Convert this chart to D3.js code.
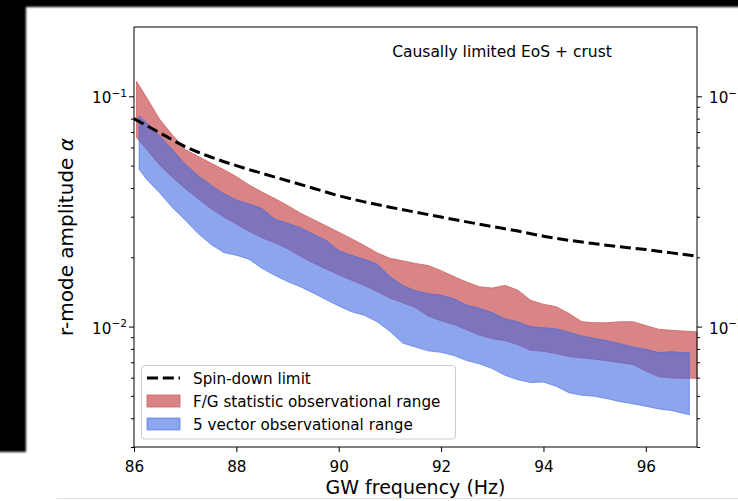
<!DOCTYPE html>
<html>
<head>
<meta charset="utf-8">
<script src="https://cdn.jsdelivr.net/npm/d3@7"></script>
<style>
body { margin: 0; background: #fff; }
svg { display: block; font-family: "DejaVu Sans", sans-serif; }
</style>
</head>
<body>
<div id="content"></div>
<script>
// F/G statistic band
const fgFreq = [86.05, 86.25, 86.5, 86.75, 87, 87.25, 87.5, 87.75, 88, 88.25, 88.5, 88.75, 89, 89.25, 89.5, 89.75,
  90, 90.25, 90.5, 90.75, 91, 91.25, 91.5, 91.75, 92, 92.25, 92.5, 92.75, 93, 93.25, 93.5, 93.75,
  94, 94.25, 94.5, 94.75, 95, 95.25, 95.5, 95.75, 96, 96.25, 96.5, 96.75, 97]
const fgHigh = [0.1162, 0.0985, 0.0796, 0.0680, 0.0588, 0.0549, 0.0513, 0.0481, 0.0448, 0.0412, 0.0384, 0.0360, 0.0336, 0.0311, 0.0292, 0.0274,
  0.0257, 0.0241, 0.0225, 0.0209, 0.0198, 0.0193, 0.0188, 0.0184, 0.0175, 0.0165, 0.0156, 0.0149, 0.0147, 0.0151, 0.0144, 0.0130,
  0.0125, 0.0122, 0.0114, 0.0105, 0.0104, 0.0104, 0.0105, 0.0105, 0.0101, 0.00974, 0.00963, 0.00956, 0.00948]
const fgLow = [0.0661, 0.0587, 0.0503, 0.0445, 0.0398, 0.0359, 0.0326, 0.0300, 0.0279, 0.0259, 0.0243, 0.0231, 0.0218, 0.0202, 0.0189, 0.0178,
  0.0168, 0.0159, 0.0151, 0.0142, 0.0133, 0.0127, 0.0121, 0.0111, 0.0106, 0.0102, 0.00968, 0.00918, 0.00886, 0.00869, 0.00834, 0.00789,
  0.00781, 0.00763, 0.00741, 0.00731, 0.00722, 0.00710, 0.00697, 0.00684, 0.00641, 0.00606, 0.00598, 0.00596, 0.00597]

// 5 vector band
const vecFreq = [86.1, 86.25, 86.5, 86.75, 87, 87.25, 87.5, 87.75, 88, 88.25, 88.5, 88.75, 89, 89.25, 89.5, 89.75,
  90, 90.25, 90.5, 90.75, 91, 91.25, 91.5, 91.75, 92, 92.25, 92.5, 92.75, 93, 93.25, 93.5, 93.75,
  94, 94.25, 94.5, 94.75, 95, 95.25, 95.5, 95.75, 96, 96.25, 96.5, 96.85]
const vecHigh = [0.0821, 0.0767, 0.0675, 0.0587, 0.0508, 0.0453, 0.0412, 0.0378, 0.0355, 0.0341, 0.0326, 0.0293, 0.0281, 0.0269, 0.0252, 0.0237,
  0.0214, 0.0204, 0.0196, 0.0187, 0.0165, 0.0151, 0.0143, 0.0139, 0.0137, 0.0132, 0.0124, 0.0120, 0.0115, 0.0108, 0.0105, 0.0100,
  0.00989, 0.00979, 0.00945, 0.00911, 0.00888, 0.00868, 0.00843, 0.00816, 0.00797, 0.00771, 0.00778, 0.00769]
const vecLow = [0.0482, 0.0435, 0.0381, 0.0329, 0.0290, 0.0254, 0.0228, 0.0210, 0.0204, 0.0196, 0.0179, 0.0167, 0.0157, 0.0149, 0.0140, 0.0131,
  0.0123, 0.0116, 0.0112, 0.0105, 0.00954, 0.00848, 0.00815, 0.00785, 0.00773, 0.00749, 0.00712, 0.00689, 0.00657, 0.00614, 0.00588, 0.00572,
  0.00574, 0.00551, 0.00516, 0.00503, 0.00498, 0.00486, 0.00472, 0.00462, 0.00451, 0.00439, 0.00432, 0.00414]

// spin-down limit
const sdFreq = [86, 86.5, 87, 87.5, 88, 88.5, 89, 89.5, 90, 90.5, 91, 91.5, 92, 92.5, 93, 93.5, 94, 94.5, 95, 95.5, 96, 96.5, 97]
const sdAlpha = [0.0800, 0.0695, 0.0605, 0.0545, 0.0500, 0.0463, 0.0430, 0.0399, 0.0370, 0.0348, 0.0330, 0.0314, 0.0299,
  0.0285, 0.0272, 0.0260, 0.0247, 0.0237, 0.0229, 0.0222, 0.0216, 0.0209, 0.0202]

const xTicks = [86, 88, 90, 92, 94, 96]
const yMajor = [0.01, 0.1]
const yMinor = [0.003, 0.004, 0.005, 0.006, 0.007, 0.008, 0.009, 0.02, 0.03, 0.04, 0.05, 0.06, 0.07, 0.08, 0.09]

const titleText = "Causally limited EoS + crust"
const legendLabels = ["Spin-down limit", "F/G statistic observational range", "5 vector observational range"]

const redColor = "#cd5c5c"
const blueColor = "#4169e1"

const outerWidth = 738
const outerHeight = 501
const margin = {top: 27, right: 41, bottom: 54, left: 134}
const width = outerWidth - margin.left - margin.right
const height = outerHeight - margin.top - margin.bottom

const svg = d3.select("#content").append("svg")
    .attr("width", outerWidth)
    .attr("height", outerHeight)

// black frame remnants from the screenshot
const defs = svg.append("defs")
defs.append("filter").attr("id", "soft")
    .append("feGaussianBlur").attr("stdDeviation", 1.2)
svg.append("rect").attr("x", -5).attr("y", -5).attr("width", outerWidth + 10).attr("height", 12)
    .attr("fill", "#000").attr("filter", "url(#soft)")
svg.append("rect").attr("x", -5).attr("y", -5).attr("width", 31).attr("height", 457)
    .attr("fill", "#000").attr("filter", "url(#soft)")
svg.append("line").attr("x1", 57).attr("x2", outerWidth).attr("y1", 498.5).attr("y2", 498.5)
    .attr("stroke", "#e2e2e2")

const plot = svg.append("g")
    .attr("transform", `translate(${margin.left}, ${margin.top})`)

// scales
const x = d3.scaleLinear().domain([86, 97]).range([0, width])
const y = d3.scaleLog().domain([0.003, 0.2]).range([height, 0])

// bands
const area = d3.area()
    .x(d => x(d.f))
    .y0(d => y(d.lo))
    .y1(d => y(d.hi))

const fgData = fgFreq.map((f, i) => ({f: f, lo: fgLow[i], hi: fgHigh[i]}))
const vecData = vecFreq.map((f, i) => ({f: f, lo: vecLow[i], hi: vecHigh[i]}))

plot.append("path")
    .datum(fgData)
    .attr("d", area)
    .attr("fill", redColor).attr("fill-opacity", 0.75)
    .attr("stroke", redColor).attr("stroke-opacity", 0.75).attr("stroke-width", 1)

plot.append("path")
    .datum(vecData)
    .attr("d", area)
    .attr("fill", blueColor).attr("fill-opacity", 0.6)
    .attr("stroke", blueColor).attr("stroke-opacity", 0.6).attr("stroke-width", 1)

// spin-down line
const line = d3.line()
    .x(d => x(d.f))
    .y(d => y(d.a))
    .curve(d3.curveMonotoneX)

plot.append("path")
    .datum(sdFreq.map((f, i) => ({f: f, a: sdAlpha[i]})))
    .attr("d", line)
    .attr("fill", "none")
    .attr("stroke", "#000")
    .attr("stroke-width", 3)
    .attr("stroke-dasharray", "11,4.8")

// axes
const styleAxis = g => {
    g.attr("font-family", "DejaVu Sans, sans-serif").attr("font-size", 15.2)
    g.select(".domain").remove()
    g.selectAll(".tick line").attr("stroke", "#000")
}

const xAxis = plot.append("g")
    .attr("transform", `translate(0, ${height})`)
    .call(d3.axisBottom(x).tickValues(xTicks).tickSize(5).tickSizeOuter(0).tickFormat(d3.format("d")))
    .call(styleAxis)
xAxis.selectAll(".tick text").attr("y", 24.5).attr("dy", null).attr("fill", "#000")

function powerLabel(sel) {
    sel.each(function(d) {
        const t = d3.select(this).text(null).attr("dy", null).attr("y", 6.5).attr("fill", "#000")
        t.append("tspan").text("10")
        t.append("tspan").attr("dy", -6.6).attr("font-size", 10.6).text("\u2212" + Math.abs(Math.round(Math.log10(d))))
    })
}

const yLeft = plot.append("g")
    .call(d3.axisLeft(y).tickValues(yMajor).tickSize(5).tickSizeOuter(0))
    .call(styleAxis)
yLeft.selectAll(".tick text").attr("x", -7).call(powerLabel)

plot.append("g")
    .call(d3.axisLeft(y).tickValues(yMinor).tickSize(3).tickSizeOuter(0).tickFormat(""))
    .call(styleAxis)

// right-hand labels run past the edge of the picture, as in the source
const yRight = plot.append("g")
    .attr("transform", `translate(${width}, 0)`)
    .call(d3.axisRight(y).tickValues(yMajor).tickSize(5).tickSizeOuter(0))
    .call(styleAxis)
yRight.selectAll(".tick text").attr("x", 12).call(powerLabel)

plot.append("g")
    .attr("transform", `translate(${width}, 0)`)
    .call(d3.axisRight(y).tickValues(yMinor).tickSize(3).tickSizeOuter(0).tickFormat(""))
    .call(styleAxis)

// frame
plot.append("rect")
    .attr("width", width)
    .attr("height", height)
    .attr("fill", "none")
    .attr("stroke", "#000")
    .attr("stroke-width", 1)

// labels
plot.append("text")
    .attr("x", width / 2)
    .attr("y", height + 47)
    .attr("text-anchor", "middle")
    .attr("font-size", 19)
    .text("GW frequency (Hz)")

svg.append("text")
    .attr("transform", `translate(73, ${margin.top + height / 2}) rotate(-90)`)
    .attr("text-anchor", "middle")
    .attr("font-size", 20)
    .text("r-mode amplitude ")
    .append("tspan").attr("font-style", "italic").text("\u03b1")

plot.append("text")
    .attr("x", 368)
    .attr("y", 29.5)
    .attr("text-anchor", "middle")
    .attr("font-size", 15.5)
    .text(titleText)

// legend
const legend = svg.append("g")
legend.append("rect")
    .attr("x", 141.5).attr("y", 365.5)
    .attr("width", 314).attr("height", 73.5)
    .attr("rx", 3)
    .attr("fill", "#fff").attr("fill-opacity", 0.8)
    .attr("stroke", "#cccccc")

const rowY = [378, 401, 424]
legend.append("line")
    .attr("x1", 147).attr("x2", 180).attr("y1", rowY[0]).attr("y2", rowY[0])
    .attr("stroke", "#000").attr("stroke-width", 3).attr("stroke-dasharray", "11,4.8")
legend.append("rect")
    .attr("x", 147).attr("y", rowY[1] - 6).attr("width", 33).attr("height", 12)
    .attr("fill", redColor).attr("fill-opacity", 0.75)
    .attr("stroke", redColor).attr("stroke-opacity", 0.75)
legend.append("rect")
    .attr("x", 147).attr("y", rowY[2] - 6).attr("width", 33).attr("height", 12)
    .attr("fill", blueColor).attr("fill-opacity", 0.6)
    .attr("stroke", blueColor).attr("stroke-opacity", 0.6)

legend.selectAll(".label")
    .data(legendLabels)
    .join("text")
    .attr("class", "label")
    .attr("x", 193)
    .attr("y", (d, i) => rowY[i] + 5.5)
    .attr("font-size", 15.2)
    .text(d => d)
</script>
</body>
</html>
